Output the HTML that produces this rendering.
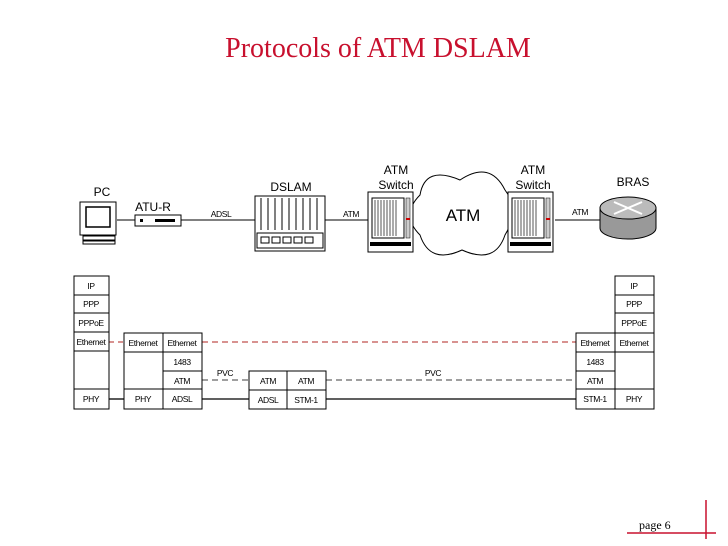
<!DOCTYPE html>
<html><head><meta charset="utf-8"><style>
body{margin:0;background:#fff}
svg{display:block}
.s{font-family:"Liberation Sans",sans-serif;font-size:8.5px;letter-spacing:-0.4px}
.l{font-family:"Liberation Sans",sans-serif;font-size:12px}
</style></head><body>
<svg width="728" height="546" viewBox="0 0 728 546" xmlns="http://www.w3.org/2000/svg">
<text x="378" y="57" text-anchor="middle" font-family="Liberation Serif,serif" font-size="28" fill="#c8102e">Protocols of ATM DSLAM</text>

<g stroke="#000" fill="none" stroke-width="1">
<line x1="117" y1="220" x2="135" y2="220"/>
<line x1="181" y1="220" x2="255" y2="220"/>
<line x1="325" y1="220" x2="368" y2="220"/>
<line x1="555" y1="220" x2="600" y2="220"/>
</g>
<rect x="80" y="202" width="36" height="33" fill="#fff" stroke="#000"/>
<rect x="86" y="207" width="24" height="20" fill="#fff" stroke="#000" stroke-width="1.5"/>
<rect x="83" y="236" width="32" height="4" fill="#fff" stroke="#000"/>
<rect x="83" y="241" width="32" height="3" fill="#fff" stroke="#000"/>
<rect x="135" y="215" width="46" height="11" fill="#fff" stroke="#000"/>
<rect x="140" y="219" width="3" height="3" fill="#000"/>
<rect x="155" y="219" width="20" height="3" fill="#000"/>
<rect x="255" y="196" width="70" height="55" fill="#fff" stroke="#000"/>
<g stroke="#000" fill="none">
<line x1="261" y1="198" x2="261" y2="230"/><line x1="268" y1="198" x2="268" y2="230"/><line x1="275" y1="198" x2="275" y2="230"/><line x1="282" y1="198" x2="282" y2="230"/><line x1="289" y1="198" x2="289" y2="230"/><line x1="296" y1="198" x2="296" y2="230"/><line x1="303" y1="198" x2="303" y2="230"/><line x1="310" y1="198" x2="310" y2="230"/><line x1="317" y1="198" x2="317" y2="230"/>
<rect x="257" y="233" width="66" height="15"/>
<rect x="261" y="237" width="8" height="6"/><rect x="272" y="237" width="8" height="6"/><rect x="283" y="237" width="8" height="6"/><rect x="294" y="237" width="8" height="6"/><rect x="305" y="237" width="8" height="6"/>
</g>
<path d="M420 195 Q425 165 460 180 Q490 160 505 190 Q520 210 505 235 Q495 265 462 250 Q430 265 420 235 Q400 215 420 195Z" fill="#fff" stroke="#000"/>
<text x="463" y="221" text-anchor="middle" font-family="Liberation Sans,sans-serif" font-size="17">ATM</text>
<g id="sw">
<rect x="368" y="192" width="45" height="60" fill="#fff" stroke="#000"/>
<rect x="372" y="198" width="32" height="40" fill="#fff" stroke="#000"/>
<g stroke="#555"><line x1="375" y1="200" x2="375" y2="236"/><line x1="378" y1="200" x2="378" y2="236"/><line x1="381" y1="200" x2="381" y2="236"/><line x1="384" y1="200" x2="384" y2="236"/><line x1="387" y1="200" x2="387" y2="236"/><line x1="390" y1="200" x2="390" y2="236"/><line x1="393" y1="200" x2="393" y2="236"/><line x1="396" y1="200" x2="396" y2="236"/></g>
<rect x="406" y="198" width="4" height="40" fill="#ccc" stroke="#000" stroke-width=".5"/>
<rect x="406" y="218" width="4" height="2" fill="#c00"/>
<rect x="370" y="242" width="41" height="4" fill="#000"/>
</g>
<use href="#sw" x="140" y="0"/>
<path d="M600 208 L600 228 A28 11 0 0 0 656 228 L656 208" fill="#999" stroke="#000"/>
<ellipse cx="628" cy="208" rx="28" ry="11" fill="#bbb" stroke="#000"/>
<g stroke="#fff" stroke-width="2"><line x1="614" y1="202" x2="642" y2="214"/><line x1="614" y1="214" x2="642" y2="202"/></g>

<text class="l" x="102" y="196" text-anchor="middle">PC</text>
<text class="l" x="153" y="211" text-anchor="middle">ATU-R</text>
<text class="l" x="291" y="191" text-anchor="middle">DSLAM</text>
<text class="l" x="396" y="174" text-anchor="middle">ATM</text>
<text class="l" x="396" y="189" text-anchor="middle">Switch</text>
<text class="l" x="533" y="174" text-anchor="middle">ATM</text>
<text class="l" x="533" y="189" text-anchor="middle">Switch</text>
<text class="l" x="633" y="186" text-anchor="middle">BRAS</text>
<text class="s" x="221" y="217" text-anchor="middle">ADSL</text>
<text class="s" x="351" y="217" text-anchor="middle">ATM</text>
<text class="s" x="580" y="215" text-anchor="middle">ATM</text>

<g fill="none" stroke-width="1.3">
<line x1="109" y1="342" x2="124" y2="342" stroke="#c0504d" stroke-dasharray="5,4"/>
<line x1="202" y1="342" x2="576" y2="342" stroke="#c0504d" stroke-dasharray="6,4"/>
<line x1="202" y1="380" x2="249" y2="380" stroke="#666" stroke-dasharray="6,4"/>
<line x1="326" y1="380" x2="576" y2="380" stroke="#666" stroke-dasharray="6,4"/>
<line x1="109" y1="399" x2="124" y2="399" stroke="#000"/>
<line x1="202" y1="399" x2="249" y2="399" stroke="#000"/>
<line x1="326" y1="399" x2="576" y2="399" stroke="#000"/>
</g>
<text class="s" x="225" y="376" text-anchor="middle">PVC</text>
<text class="s" x="433" y="376" text-anchor="middle">PVC</text>

<g fill="#fff" stroke="#000" stroke-width="1">
<rect x="74" y="276" width="35" height="19"/><rect x="74" y="295" width="35" height="18"/><rect x="74" y="313" width="35" height="19"/><rect x="74" y="332" width="35" height="19"/>
<rect x="74" y="351" width="35" height="38"/><rect x="74" y="389" width="35" height="20"/>
<rect x="124" y="333" width="39" height="19"/><rect x="124" y="352" width="39" height="37"/><rect x="124" y="389" width="39" height="20"/>
<rect x="163" y="333" width="39" height="19"/><rect x="163" y="352" width="39" height="19"/><rect x="163" y="371" width="39" height="18"/><rect x="163" y="389" width="39" height="20"/>
<rect x="249" y="371" width="38" height="19"/><rect x="287" y="371" width="39" height="19"/>
<rect x="249" y="390" width="38" height="19"/><rect x="287" y="390" width="39" height="19"/>
<rect x="576" y="333" width="39" height="19"/><rect x="576" y="352" width="39" height="19"/><rect x="576" y="371" width="39" height="18"/><rect x="576" y="389" width="39" height="20"/>
<rect x="615" y="276" width="39" height="19"/><rect x="615" y="295" width="39" height="18"/><rect x="615" y="313" width="39" height="20"/><rect x="615" y="333" width="39" height="19"/>
<rect x="615" y="352" width="39" height="37"/><rect x="615" y="389" width="39" height="20"/>
</g>
<g class="s" text-anchor="middle">
<text x="91" y="289">IP</text><text x="91" y="307">PPP</text><text x="91" y="326">PPPoE</text><text x="91" y="345">Ethernet</text><text x="91" y="402">PHY</text>
<text x="143" y="346">Ethernet</text><text x="143" y="402">PHY</text>
<text x="182" y="346">Ethernet</text><text x="182" y="365">1483</text><text x="182" y="384">ATM</text><text x="182" y="402">ADSL</text>
<text x="268" y="384">ATM</text><text x="306" y="384">ATM</text><text x="268" y="403">ADSL</text><text x="306" y="403">STM-1</text>
<text x="595" y="346">Ethernet</text><text x="595" y="365">1483</text><text x="595" y="384">ATM</text><text x="595" y="402">STM-1</text>
<text x="634" y="289">IP</text><text x="634" y="307">PPP</text><text x="634" y="326">PPPoE</text><text x="634" y="346">Ethernet</text><text x="634" y="402">PHY</text>
</g>

<line x1="706" y1="500" x2="706" y2="539" stroke="#c8102e" stroke-width="1.5"/>
<line x1="627" y1="533" x2="716" y2="533" stroke="#c8102e" stroke-width="1.5"/>
<text x="639" y="529" font-family="Liberation Serif,serif" font-size="12">page 6</text>
</svg>
</body></html>
